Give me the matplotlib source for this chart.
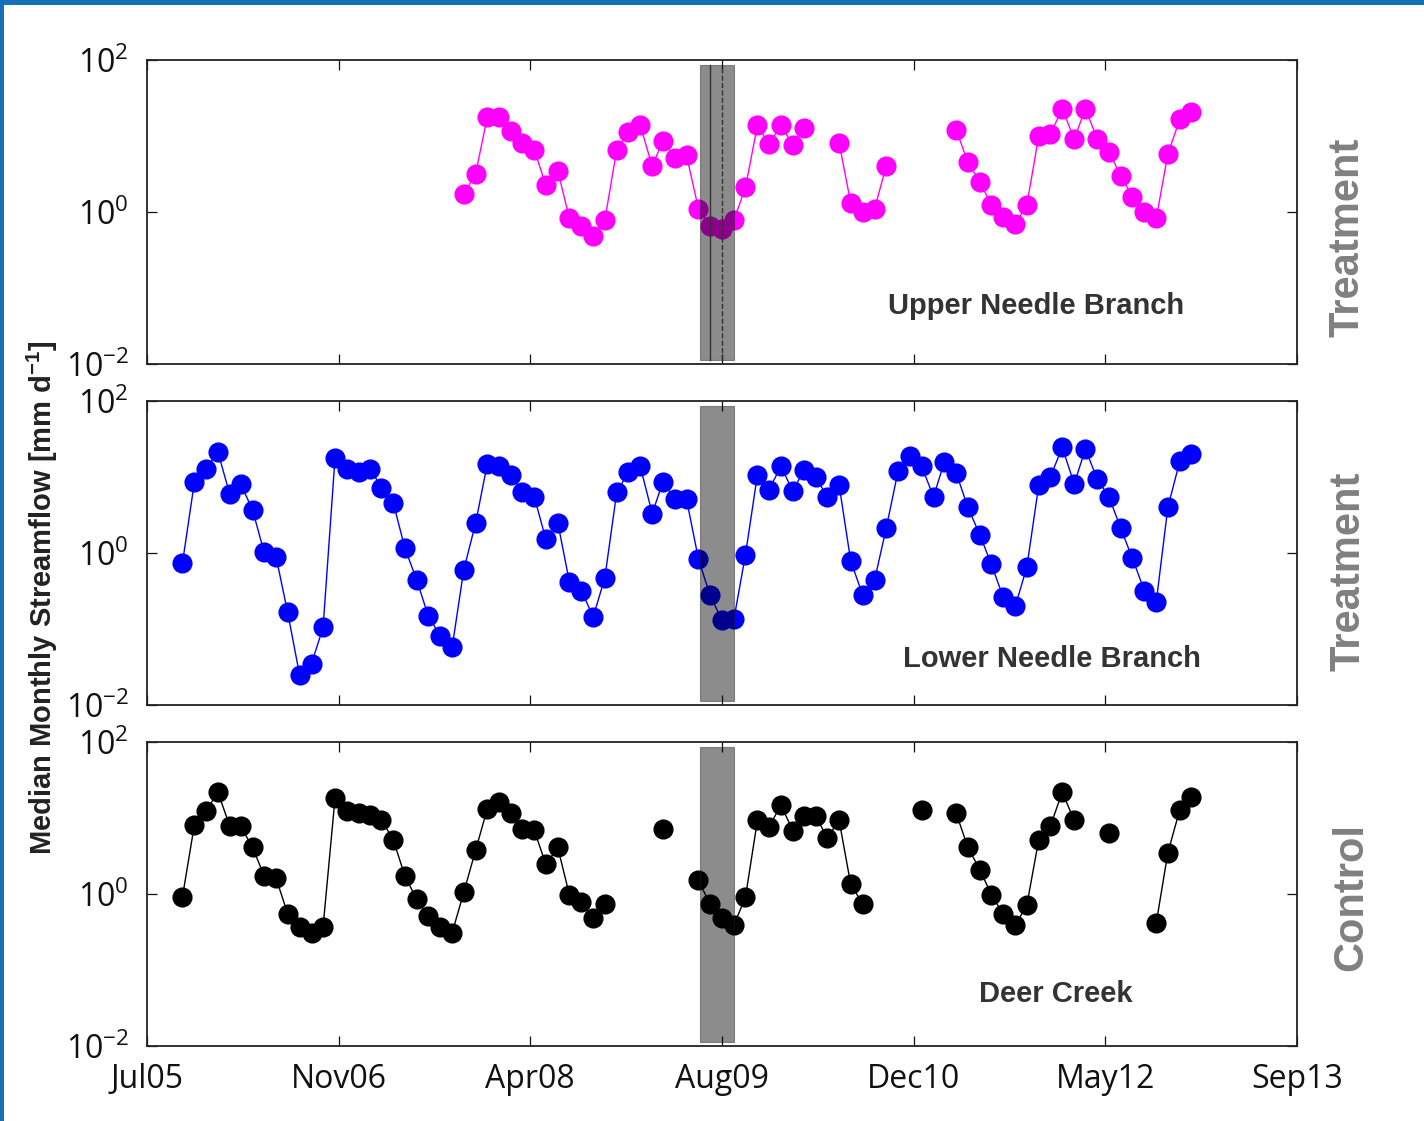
import numpy as np
import pandas as pd
import matplotlib
matplotlib.use("Agg")
import matplotlib.pyplot as plt
import matplotlib.dates as mdates
from matplotlib.lines import Line2D

nan = np.nan

# monthly medians, Oct 2005 .. Dec 2012 [mm/d]
months = pd.date_range("2005-10-01", "2012-12-01", freq="MS")

upper_needle = [nan, nan, nan, nan, nan, nan, nan, nan, nan, nan, nan, nan,
                nan, nan, nan, nan, nan, nan, nan, nan, nan, nan, nan, nan,
                1.70, 3.2, 17.8, 17.8, 11.7, 8.1, 6.6, 2.24, 3.5, 0.83, 0.65, 0.49,
                0.78, 6.6, 11.2, 13.8, 4.0, 8.7, 5.2, 5.6, 1.10, 0.66, 0.60, 0.78,
                2.1, 13.8, 7.8, 13.8, 7.6, 12.9, nan, nan, 8.1, 1.32, 1.0, 1.10,
                4.0, nan, nan, nan, nan, nan, 12.0, 4.5, 2.5, 1.23, 0.85, 0.69,
                1.23, 10.0, 10.5, 22.9, 9.1, 22.9, 9.1, 6.2, 3.0, 1.58, 1.0, 0.83,
                5.8, 16.6, 20.9]

lower_needle = [0.73, 8.5, 12.9, 21.4, 5.9, 8.1, 3.7, 1.02, 0.89, 0.166, 0.025, 0.035,
                0.105, 17.8, 12.9, 11.5, 12.9, 7.2, 4.6, 1.17, 0.44, 0.148, 0.081, 0.058,
                0.60, 2.5, 14.8, 13.8, 10.5, 6.3, 5.5, 1.51, 2.5, 0.42, 0.32, 0.145,
                0.47, 6.3, 11.5, 13.8, 3.3, 8.7, 5.1, 5.1, 0.83, 0.28, 0.13, 0.135,
                0.95, 10.7, 6.8, 13.8, 6.5, 12.3, 10.0, 5.5, 7.8, 0.79, 0.28, 0.44,
                2.1, 12.0, 19.1, 13.8, 5.5, 15.8, 11.2, 4.0, 1.74, 0.71, 0.26, 0.20,
                0.65, 7.8, 10.0, 24.5, 8.1, 23.4, 9.3, 5.5, 2.1, 0.85, 0.32, 0.23,
                4.0, 16.2, 20.0]

deer_creek = [0.91, 8.1, 12.3, 21.9, 7.8, 7.8, 4.1, 1.74, 1.62, 0.55, 0.37, 0.31,
              0.37, 18.2, 12.3, 11.5, 11.0, 9.5, 5.2, 1.74, 0.85, 0.51, 0.37, 0.31,
              1.05, 3.8, 13.2, 16.2, 11.5, 7.2, 6.9, 2.45, 4.1, 0.98, 0.79, 0.48,
              0.74, nan, nan, nan, nan, 7.2, nan, nan, 1.51, 0.74, 0.48, 0.39,
              0.91, 9.3, 7.6, 14.8, 6.8, 10.7, 10.7, 5.5, 9.3, 1.35, 0.74, nan,
              nan, nan, nan, 12.9, nan, nan, 11.5, 4.1, 2.1, 0.98, 0.54, 0.39,
              0.71, 5.2, 7.8, 21.9, 9.3, nan, nan, 6.3, nan, nan, nan, 0.42,
              3.5, 12.9, 19.1]

series = [upper_needle, lower_needle, deer_creek]
names = ["Upper Needle Branch", "Lower Needle Branch", "Deer Creek"]
groups = ["Treatment", "Treatment", "Control"]
colors = ["#ff00ff", "#0000ff", "#000000"]

# harvest period (shaded)
harvest = (pd.Timestamp("2009-06-05"), pd.Timestamp("2009-09-01"))
harvest_marks = [pd.Timestamp("2009-07-01"), pd.Timestamp("2009-08-01")]

xmin, xmax = pd.Timestamp("2005-07-01"), pd.Timestamp("2013-09-01")
xticklabels = ["Jul05", "Nov06", "Apr08", "Aug09", "Dec10", "May12", "Sep13"]
yticklabels = [r"$\mathdefault{10^{-2}}$", r"$\mathdefault{10^{0}}$", r"$\mathdefault{10^{2}}$"]

plt.rcParams["font.family"] = ["Open Sans", "DejaVu Sans"]
plt.rcParams["mathtext.fontset"] = "custom"
plt.rcParams["mathtext.rm"] = "Open Sans"
plt.rcParams["mathtext.bf"] = "Liberation Sans:bold"
plt.rcParams["axes.unicode_minus"] = False

fig = plt.figure(figsize=(14.24, 11.21), dpi=100)

bottoms = [0.6753, 0.3711, 0.0669]
label_pos = [(0.773, 0.192), (0.787, 0.150), (0.790, 0.170)]
group_pos = [(0.946, 0.7886), (0.947, 0.4906), (0.949, 0.1998)]

x0, x1 = mdates.date2num(xmin), mdates.date2num(xmax)
ticks = np.linspace(x0, x1, 7)

for i in range(3):
    ax = fig.add_axes([0.1032, bottoms[i], 0.8076, 0.2712])
    ax.plot(months, series[i], "-o", color=colors[i], lw=1.0, ms=13.5,
            mec=colors[i], zorder=2)
    ax.set_yscale("log")
    ax.set_ylim(1e-2, 1e2)
    ax.set_yticks([1e-2, 1e0, 1e2])
    ax.set_yticklabels(yticklabels)
    ax.minorticks_off()
    ax.set_xlim(x0, x1)
    ax.set_xticks(ticks)
    if i == 2:
        ax.set_xticklabels(xticklabels)
    else:
        ax.set_xticklabels([])
    ax.tick_params(direction="in", length=7, width=0.9, top=True, right=True,
                   labelsize=23, colors="#111111", pad=12)
    ax.tick_params(axis="y", pad=13)
    for s in ax.spines.values():
        s.set_linewidth(1.3)
        s.set_color("#222222")

    ax.axvspan(harvest[0], harvest[1], ymin=0.014, ymax=0.985,
               facecolor="black", edgecolor="#222222", alpha=0.45, lw=0.8, zorder=3)
    if i == 0:
        ax.axvline(harvest_marks[0], ymin=0.014, ymax=0.985, color="#333333", lw=1.0, zorder=4)
        ax.axvline(harvest_marks[1], ymin=0.014, ymax=0.985, color="#333333", lw=1.0,
                   ls="--", zorder=4)

    ax.text(label_pos[i][0], label_pos[i][1], names[i], transform=ax.transAxes,
            ha="center", va="center", fontsize=21, fontweight="bold",
            color="#333333", family="Liberation Sans")
    fig.text(group_pos[i][0], group_pos[i][1], groups[i], rotation=90,
             ha="center", va="center", fontsize=30, fontweight="bold",
             color="#808080", family="Liberation Sans")

fig.text(0.0295, 0.4674, r"Median Monthly Streamflow [mm d$^{\mathbf{-1}}$]",
         rotation=90, ha="center", va="center", fontsize=21, fontweight="bold",
         color="#222222", family="Liberation Sans")

# blue frame on top and left edges
fig.add_artist(Line2D([0, 1], [1, 1], transform=fig.transFigure, color="#1570b5", lw=6.5))
fig.add_artist(Line2D([0, 0], [0, 1], transform=fig.transFigure, color="#1570b5", lw=5))

fig.savefig("out.png", dpi=100)
